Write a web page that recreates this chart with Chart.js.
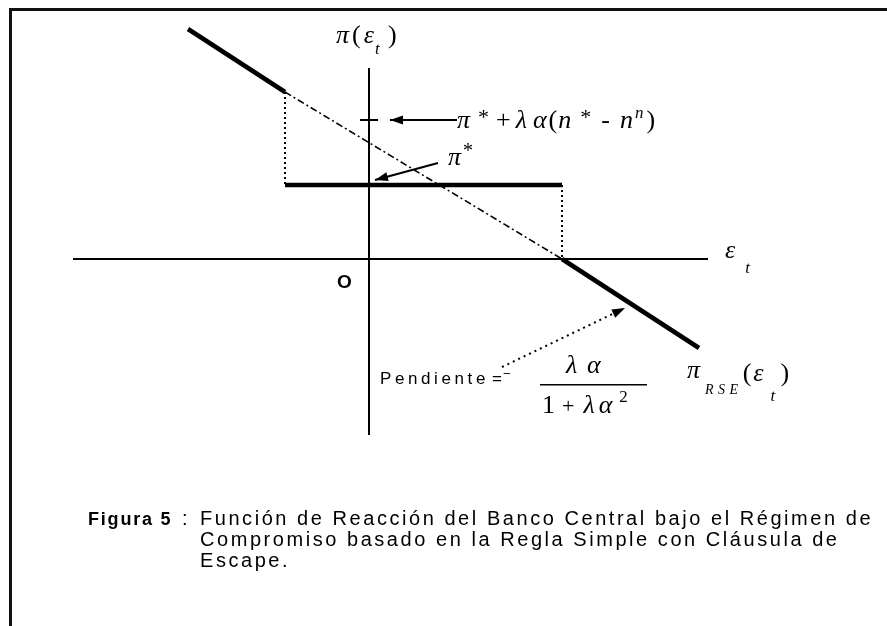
<!DOCTYPE html>
<html>
<head>
<meta charset="utf-8">
<script src="https://cdn.jsdelivr.net/npm/chart.js@4.4.1/dist/chart.umd.min.js"></script>
<style>
  html, body { margin: 0; padding: 0; background: #fff; }
  #hoja { position: relative; width: 887px; height: 626px; overflow: hidden; }
  #marco { position: absolute; left: 9px; top: 8px; width: 900px; height: 700px;
           border-top: 3px solid #111; border-left: 3px solid #111; }
  #grafico { position: absolute; left: 0; top: 0; }
</style>
</head>
<body>
<div id="hoja">
  <div id="marco"></div>
  <canvas id="grafico" width="887" height="626"></canvas>
</div>
<script>
"use strict";
// tramos de la funcion de reaccion (epsilon_t, pi)
var tramoEscapeAlto = [[-18.1, 23.0], [-8.4, 16.7]];
var tramoCompromiso = [[-8.4, 7.4], [19.3, 7.4]];
var tramoEscapeBajo = [[19.3, 0], [33.0, -8.9]];
var reglaDiscrecional = [[-8.4, 16.7], [19.3, 0]];
var guiaIzq = [[-8.4, 16.7], [-8.4, 7.4]];
var guiaDer = [[19.3, 7.4], [19.3, 0]];
// ejes y marca de pi* + lambda alfa (n* - n^n)
var ejeHorizontal = [[-29.6, 0], [33.9, 0]];
var ejeVertical = [[0, 19.1], [0, -17.6]];
var marcaPi = [[-0.9, 13.9], [0.9, 13.9]];
// flechas de las etiquetas
var flechaPiLambda = [[8.8, 13.9], [2.1, 13.9]];
var flechaPi = [[6.9, 9.6], [0.6, 7.9]];
var flechaPendiente = [[13.3, -10.8], [25.6, -4.9]];

var leyenda = [
    "Función de Reacción del Banco Central bajo el Régimen de",
    "Compromiso basado en la Regla Simple con Cláusula de",
    "Escape."
];

function pts(a) {
    return a.map(function(p) { return { x: p[0], y: p[1] } })
}

function linea(a, ancho, guion, extra) {
    var d = {
        data: pts(a),
        showLine: true,
        borderColor: "#000",
        backgroundColor: "#000",
        borderWidth: ancho,
        borderDash: guion || [],
        borderCapStyle: "butt",
        pointRadius: 0,
        clip: false
    };
    if (extra) d.flecha = true;
    return d
}

var SERIF = "Liberation Serif, Times New Roman, serif";
var SANS = "Liberation Sans, Arial, Helvetica, sans-serif";

// texto letra por letra, con espaciado fijo
function texto(ctx, s, x, y, font, esp) {
    ctx.font = font;
    for (var ch of s) {
        ctx.fillText(ch, x, y);
        x += ctx.measureText(ch).width + (esp || 0);
    }
    return x
}

var rotulos = {
    id: "rotulos",
    afterDatasetsDraw: function(chart) {
        var ctx = chart.ctx, sx = chart.scales.x, sy = chart.scales.y;
        var X = function(v) { return sx.getPixelForValue(v) };
        var Y = function(v) { return sy.getPixelForValue(v) };

        // puntas de flecha
        chart.data.datasets.forEach(function(ds) {
            if (!ds.flecha) return;
            var n = ds.data.length;
            var a = ds.data[n - 2], b = ds.data[n - 1];
            var x1 = X(a.x), y1 = Y(a.y), x2 = X(b.x), y2 = Y(b.y);
            var ang = Math.atan2(y2 - y1, x2 - x1);
            ctx.save();
            ctx.translate(x2, y2);
            ctx.rotate(ang);
            ctx.beginPath();
            ctx.moveTo(0, 0);
            ctx.lineTo(-13, -4.5);
            ctx.lineTo(-13, 4.5);
            ctx.closePath();
            ctx.fillStyle = "#000";
            ctx.fill();
            ctx.restore();
        });

        ctx.save();
        ctx.fillStyle = "#000";
        ctx.textBaseline = "alphabetic";
        var it = "italic 26px " + SERIF, rm = "26px " + SERIF, sub = "italic 17px " + SERIF;
        var ast = "22px " + SERIF;

        // pi(epsilon_t) sobre el eje vertical
        var x = X(-3.3), y = Y(21.6);
        x = texto(ctx, "π", x, y, it, 0);
        x = texto(ctx, "(", x + 3, y, rm, 0);
        x = texto(ctx, "ε", x + 3, y, it, 0);
        texto(ctx, "t", x + 1, y + 11, sub, 0);
        texto(ctx, ")", x + 14, y, rm, 0);

        // pi* + lambda alfa (n* - n^n)
        x = X(8.8); y = Y(13.1);
        x = texto(ctx, "π", x, y, it, 0);
        x = texto(ctx, "*", x + 8, y - 4, ast, 0);
        x = texto(ctx, "+", x + 7, y, rm, 0);
        x = texto(ctx, "λ", x + 5, y, it, 0);
        x = texto(ctx, "α", x + 6, y, it, 0);
        x = texto(ctx, "(", x + 2, y, rm, 0);
        x = texto(ctx, "n", x + 1, y, it, 0);
        x = texto(ctx, "*", x + 9, y - 4, ast, 0);
        x = texto(ctx, "-", x + 10, y, rm, 0);
        x = texto(ctx, "n", x + 10, y, it, 0);
        x = texto(ctx, "n", x + 2, y - 10, sub, 0);
        texto(ctx, ")", x + 3, y, rm, 0);

        // pi*
        x = X(7.9); y = Y(9.4);
        x = texto(ctx, "π", x, y, it, 0);
        texto(ctx, "*", x + 2, y - 8, "20px " + SERIF, 0);

        // epsilon_t
        x = X(35.6); y = Y(0.1);
        x = texto(ctx, "ε", x, y, it, 0);
        texto(ctx, "t", x + 10, y + 15, sub, 0);

        // origen
        texto(ctx, "O", X(-3.2), Y(-2.9), "bold 19px " + SANS, 0);

        // pi_RSE(epsilon_t)
        x = X(31.8); y = Y(-11.9);
        x = texto(ctx, "π", x, y, it, 0);
        x = texto(ctx, "RSE", x + 5, y + 16, "italic 14px " + SERIF, 4.5);
        x = texto(ctx, "(", x, y + 3, rm, 0);
        x = texto(ctx, "ε", x + 2, y + 3, it, 0);
        texto(ctx, "t", x + 7, y + 23, sub, 0);
        texto(ctx, ")", x + 17, y + 3, rm, 0);

        // pendiente = - lambda alfa / (1 + lambda alfa^2)
        x = X(1.1); y = Y(-12.5);
        x = texto(ctx, "Pendiente", x, y, "17px " + SANS, 3.6);
        x = texto(ctx, "=", x + 3, y, "17px " + SANS, 0);
        texto(ctx, "−", x + 1, y - 6, "13px " + SANS, 0);
        var cx = X(22.4), ly = Y(-12.5);
        ctx.fillRect(cx - 53, ly, 107, 1.5);
        texto(ctx, "λ", cx - 27, ly - 11, it, 0);
        texto(ctx, "α", cx - 6, ly - 11, it, 0);
        x = texto(ctx, "1", cx - 51, ly + 29, rm, 0);
        x = texto(ctx, "+", x + 7, ly + 29, "22px " + SERIF, 0);
        x = texto(ctx, "λ", x + 9, ly + 29, it, 0);
        x = texto(ctx, "α", x + 4, ly + 29, it, 0);
        texto(ctx, "2", x + 7, ly + 18, "17px " + SERIF, 0);

        // pie de figura
        var fs = "20px " + SANS;
        texto(ctx, "Figura 5", 88, 525, "bold 18px " + SANS, 1.8);
        texto(ctx, ":", 182, 525, fs, 0);
        leyenda.forEach(function(l, i) {
            texto(ctx, l, 200, 525 + i * 21, fs, 2.55);
        });
        ctx.restore();
    }
};

new Chart(document.getElementById("grafico").getContext("2d"), {
    type: "scatter",
    data: {
        datasets: [
            linea(ejeHorizontal, 2),
            linea(ejeVertical, 2),
            linea(marcaPi, 2),
            linea(guiaIzq, 2, [2, 3]),
            linea(guiaDer, 2, [2, 3]),
            linea(reglaDiscrecional, 1.6, [7, 3, 2, 3]),
            linea(tramoEscapeAlto, 4.5),
            linea(tramoCompromiso, 4.5),
            linea(tramoEscapeBajo, 4.5),
            linea(flechaPiLambda, 2, null, true),
            linea(flechaPi, 2, null, true),
            linea(flechaPendiente, 2, [2, 4], true)
        ]
    },
    options: {
        responsive: false,
        animation: false,
        events: [],
        layout: { padding: 0 },
        plugins: { legend: { display: false }, tooltip: { enabled: false } },
        scales: {
            x: { type: "linear", min: -36.9, max: 51.8, display: false },
            y: { type: "linear", min: -36.7, max: 25.9, display: false }
        }
    },
    plugins: [rotulos]
});
</script>
</body>
</html>
